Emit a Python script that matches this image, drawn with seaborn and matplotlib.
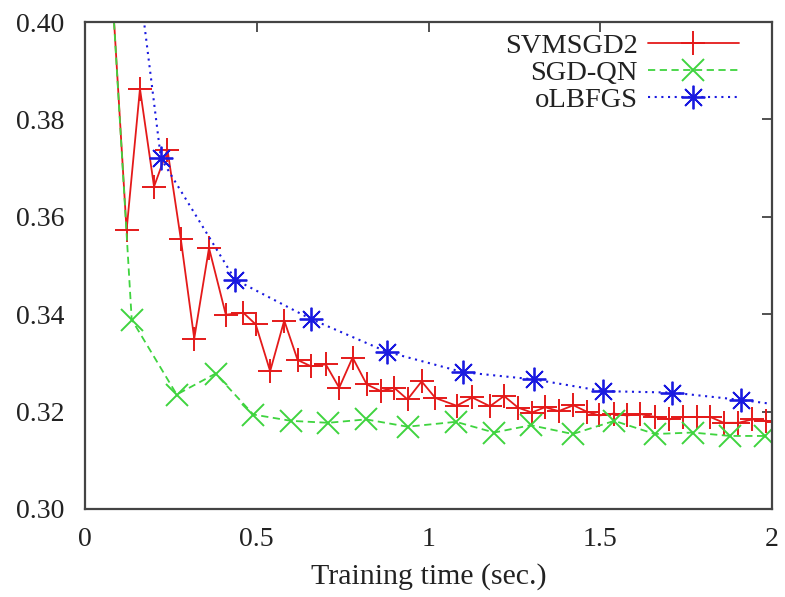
import matplotlib
matplotlib.use("Agg")
import matplotlib.pyplot as plt
import seaborn as sns
import pandas as pd

# ---- data ----
svm_x = [0.0, 0.121, 0.160, 0.201, 0.240, 0.279, 0.318, 0.361, 0.410, 0.461, 0.497,
         0.539, 0.580, 0.619, 0.658, 0.701, 0.740, 0.779, 0.820, 0.861, 0.900, 0.939,
         0.980, 1.020, 1.082, 1.127, 1.179, 1.220, 1.261, 1.301, 1.339, 1.379, 1.422,
         1.460, 1.497, 1.540, 1.577, 1.616, 1.659, 1.701, 1.742, 1.781, 1.820, 1.860,
         1.902, 1.943, 1.982, 2.02]
svm_y = [0.500, 0.3572, 0.3863, 0.3662, 0.3738, 0.3554, 0.3350, 0.3536, 0.3399, 0.3403,
         0.3379, 0.3283, 0.3387, 0.3306, 0.3293, 0.3297, 0.3249, 0.3311, 0.3256, 0.3242,
         0.3249, 0.3225, 0.3262, 0.3228, 0.3212, 0.3229, 0.3211, 0.3232, 0.3208, 0.3198,
         0.3209, 0.3201, 0.3213, 0.3200, 0.3192, 0.3196, 0.3192, 0.3195, 0.3189, 0.3184,
         0.3189, 0.3189, 0.3189, 0.3177, 0.3177, 0.3184, 0.3181, 0.3179]

qn_x = [0.0, 0.136, 0.267, 0.380, 0.490, 0.600, 0.708, 0.818, 0.939, 1.080, 1.191,
        1.298, 1.420, 1.541, 1.659, 1.769, 1.878, 1.980]
qn_y = [0.500, 0.3389, 0.3235, 0.3278, 0.3194, 0.3181, 0.3177, 0.3184, 0.3169, 0.3179,
        0.3157, 0.3172, 0.3154, 0.3181, 0.3154, 0.3157, 0.3150, 0.3150]

lb_x = [0.0, 0.221, 0.437, 0.658, 0.878, 1.100, 1.308, 1.509, 1.710, 1.909, 2.12]
lb_y = [0.498, 0.3720, 0.3471, 0.3390, 0.3323, 0.3281, 0.3266, 0.3242, 0.3239, 0.3224, 0.3205]

series_names = ["SVMSGD2", "SGD-QN", "oLBFGS"]
x_ticks = [0, 0.5, 1, 1.5, 2]
x_tick_labels = ["0", "0.5", "1", "1.5", "2"]
y_ticks = [0.30, 0.32, 0.34, 0.36, 0.38, 0.40]
y_tick_labels = ["0.30", "0.32", "0.34", "0.36", "0.38", "0.40"]
x_label = "Training time (sec.)"

# ---- styling ----
sns.set_style("white")
plt.rcParams["font.family"] = ["Liberation Serif", "DejaVu Serif"]

fig = plt.figure(figsize=(7.85, 5.97), dpi=100)
ax = fig.add_axes([85 / 785, 1 - 509 / 597, 687 / 785, 487 / 597])

colors = ["#e41a1a", "#3fd43f", "#1a1ae0"]
styles = [
    dict(marker="+", linestyle="-", ms=17, mew=1.4, lw=1.3),
    dict(marker="x", linestyle=(0, (4, 2.5)), ms=15.5, mew=1.4, lw=1.3),
    dict(marker=(8, 2, 0), linestyle=(0, (1, 2.2)), ms=17, mew=1.3, lw=1.5),
]
data = [(svm_x, svm_y), (qn_x, qn_y), (lb_x, lb_y)]
for name, (xs, ys), st, c in zip(series_names, data, styles, colors):
    df = pd.DataFrame({"x": xs, "y": ys})
    sns.lineplot(data=df, x="x", y="y", ax=ax, label=name, sort=False,
                 estimator=None, color=c, mec=c, mfc=c, **st)

ax.set_xlim(0, 2)
ax.set_ylim(0.30, 0.40)
ax.set_xticks(x_ticks)
ax.set_xticklabels(x_tick_labels)
ax.set_yticks(y_ticks)
ax.set_yticklabels(y_tick_labels)
ax.set_xlabel(x_label, fontsize=21.5, color="#222222")
ax.set_ylabel("")
ax.xaxis.set_label_coords(0.5, -0.112)

ax.tick_params(axis="both", which="both", direction="in", length=7, width=1.2,
               labelsize=20, colors="#333333", labelcolor="#222222",
               top=True, right=True)
ax.tick_params(axis="y", pad=15)
ax.tick_params(axis="x", pad=13)
for sp in ax.spines.values():
    sp.set_visible(True)
    sp.set_linewidth(1.6)
    sp.set_color("#444444")

leg = ax.legend(loc="upper right", bbox_to_anchor=(0.952, 0.978), frameon=False,
                markerfirst=False, handlelength=3.2, handletextpad=0.35,
                fontsize=20.5, labelspacing=0.04, borderaxespad=0, borderpad=0)
for t in leg.get_texts():
    t.set_color("#222222")

fig.savefig("out.png", dpi=100)
